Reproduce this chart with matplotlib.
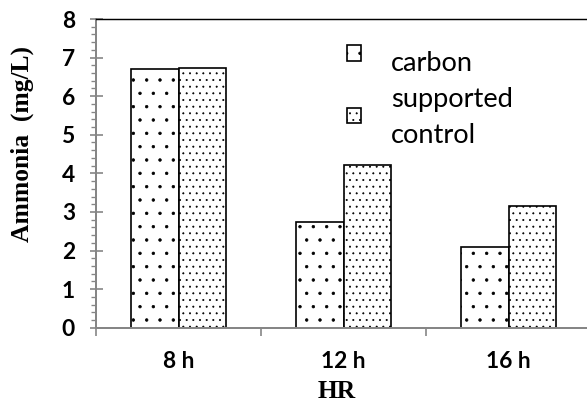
import matplotlib
matplotlib.use("Agg")
import matplotlib.pyplot as plt
import numpy as np
from matplotlib.ticker import MultipleLocator, FixedLocator, NullFormatter
from matplotlib.legend_handler import HandlerPatch, update_from_first_child
from matplotlib.patches import Rectangle

categories = ["8 h", "12 h", "16 h"]
carbon = [6.70, 2.75, 2.09]
control = [6.73, 4.22, 3.16]
series_labels = ["carbon\nsupported", "control"]

plt.rcParams["font.family"] = ["Lato", "DejaVu Sans"]
plt.rcParams["font.weight"] = "bold"
plt.rcParams["hatch.linewidth"] = 0.6

grey = "#868686"
dpi = 80
fig = plt.figure(figsize=(587/dpi, 401/dpi), dpi=dpi)
ax = fig.add_axes([96/587, 73.3/401, 495/587, 308.7/401])

x = np.arange(len(categories))
w = 0.288
b1 = ax.bar(x - w/2, carbon, w, color="white", edgecolor="black",
    linewidth=1.5, hatch=".", label=series_labels[0])
b2 = ax.bar(x + w/2, control, w, color="white", edgecolor="black",
    linewidth=1.5, hatch="..", label=series_labels[1])

ax.set_xlim(-0.5, 2.5)
ax.set_ylim(0, 8)

# y axis
ax.yaxis.set_major_locator(MultipleLocator(1))
ax.yaxis.set_minor_locator(MultipleLocator(0.2))
ax.tick_params(axis="y", which="major", direction="inout", length=11.7,
    width=1.5, color=grey, pad=13)
ax.tick_params(axis="y", which="minor", direction="out", length=4.5,
    width=1.2, color=grey)

# x axis: ticks at category borders, labels at centers
ax.xaxis.set_major_locator(FixedLocator([-0.5, 0.5, 1.5, 2.5]))
ax.xaxis.set_major_formatter(NullFormatter())
ax.xaxis.set_minor_locator(FixedLocator(x))
ax.set_xticks(x, categories, minor=True)
ax.tick_params(axis="x", which="major", direction="out", length=7,
    width=1.5, color=grey)
ax.tick_params(axis="x", which="minor", length=0, pad=21)

for lab in ax.get_yticklabels() + ax.get_xticklabels(minor=True):
    lab.set_fontsize(20.5)

ax.spines["left"].set_color(grey)
ax.spines["left"].set_linewidth(1.8)
ax.spines["bottom"].set_color(grey)
ax.spines["bottom"].set_linewidth(1.8)
ax.spines["top"].set_color("black")
ax.spines["top"].set_linewidth(1.3)
ax.spines["right"].set_visible(False)

ax.set_ylabel("Ammonia  (mg/L)", family="Liberation Serif", weight="bold",
    fontsize=23, va="center")
ax.yaxis.set_label_coords(-0.1495, 0.595)
ax.set_xlabel("HR", family="Liberation Serif", weight="bold", fontsize=23,
    va="top")
ax.xaxis.set_label_coords(0.487, -0.168)


def raised(dy):
    def make(legend, orig_handle, xdescent, ydescent, width, height, fontsize):
        return Rectangle((-xdescent, -ydescent + dy), width, height)
    return HandlerPatch(patch_func=make, update_func=update_from_first_child)


leg = ax.legend(handles=[b1, b2], loc="upper left",
    bbox_to_anchor=(0.458, 0.975), frameon=False,
    prop={"family": "Lato", "size": 24.5, "weight": "normal"},
    handlelength=0.5, handleheight=0.5, handletextpad=1.1,
    labelspacing=0.4, handler_map={b1: raised(26), b2: raised(16)})
for t in leg.get_texts():
    t.set_linespacing(1.55)

fig.savefig("out.png", dpi=dpi)
